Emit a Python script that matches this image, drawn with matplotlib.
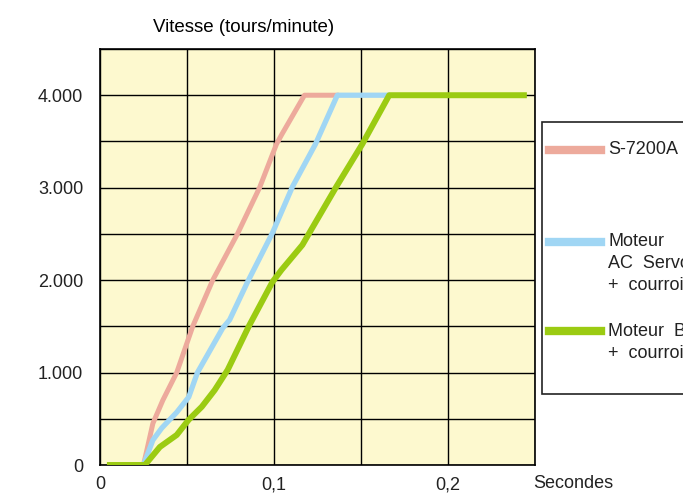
import matplotlib
matplotlib.use("Agg")
import matplotlib.pyplot as plt

plt.rcParams['font.family'] = ['Liberation Sans', 'DejaVu Sans']

# courbes de vitesse (secondes, tours/minute)
s7200a_t = [0.025, 0.0304, 0.0361, 0.0441, 0.0533, 0.0648, 0.079, 0.0917, 0.1014, 0.1043, 0.1175, 0.1358]
s7200a_v = [0, 450, 700, 1000, 1500, 2000, 2500, 3000, 3470, 3570, 4000, 4000]

servo_t = [0.025, 0.0304, 0.0355, 0.0441, 0.051, 0.056, 0.0705, 0.0745, 0.0848, 0.0991, 0.1106,
           0.1238, 0.1364, 0.165]
servo_v = [0, 270, 400, 570, 735, 1000, 1480, 1570, 1980, 2510, 3010, 3470, 4000, 4000]

brush_t = [0.0057, 0.0258, 0.0344, 0.0441, 0.051, 0.0585, 0.0659, 0.0734, 0.0855, 0.0991, 0.1043,
           0.1163, 0.1203, 0.1358, 0.1507, 0.1662, 0.2436]
brush_v = [0, 0, 195, 325, 490, 630, 810, 1030, 1500, 1980, 2110, 2380, 2510, 3010, 3470, 4000, 4000]

x_ticks = [0, 0.05, 0.1, 0.15, 0.2, 0.25]
x_labels = ['0', '', '0,1', '', '0,2', '']
y_ticks = [0, 500, 1000, 1500, 2000, 2500, 3000, 3500, 4000, 4500]
y_labels = ['0', '', '1.000', '', '2.000', '', '3.000', '', '4.000', '']

labels = [['S-7200A'], ['Moteur', 'AC  Servo', '+  courroie'], ['Moteur  Brushless', '+  courroie']]
colors = ['#EDAA9C', '#A0D6F4', '#9BCB12']

fig = plt.figure(figsize=(6.83, 4.93), dpi=100)
ax = fig.add_axes([100 / 683, 28 / 493, 435 / 683, 416 / 493])
ax.set_facecolor('#FDF9CF')

ax.plot(s7200a_t, s7200a_v, color=colors[0], lw=3.6, zorder=3)
ax.plot(servo_t, servo_v, color=colors[1], lw=3.8, zorder=3)
ax.plot(brush_t, brush_v, color=colors[2], lw=4.3, zorder=3)

ax.set_xlim(0, 0.25)
ax.set_ylim(0, 4500)
ax.set_xticks(x_ticks)
ax.set_xticklabels(x_labels)
ax.set_yticks(y_ticks)
ax.set_yticklabels(y_labels)
ax.tick_params(length=0, labelsize=13, colors='#222222')
ax.tick_params(axis='y', pad=12)
ax.tick_params(axis='x', pad=8)
ax.grid(True, color='black', lw=1.0, zorder=1)
for sp in ax.spines.values():
    sp.set_linewidth(1.2)

fig.text(244 / 683, 1 - 28 / 493, 'Vitesse (tours/minute)', ha='center', va='center',
         fontsize=13.5)
fig.text(573 / 683, 1 - 484 / 493, 'Secondes', ha='center', va='center', fontsize=13, color='#222222')

# cadre de légende (coupé à droite)
box = plt.Rectangle((542 / 683, 1 - 394 / 493), 200 / 683, 272 / 493, transform=fig.transFigure,
                    facecolor='white', edgecolor='#222222', lw=1.2)
fig.add_artist(box)
entry_y = [150, 242, 331]
for lines, col, yy in zip(labels, colors, entry_y):
    fig.add_artist(plt.Line2D([549 / 683, 601 / 683], [1 - yy / 493, 1 - yy / 493],
                              transform=fig.transFigure, color=col, lw=6))
    for i, txt in enumerate(lines):
        fig.text(608 / 683, 1 - (yy + 22 * i) / 493, txt, ha='left', va='center', fontsize=13,
                 color='#222222')

fig.savefig('out.png', dpi=100)
